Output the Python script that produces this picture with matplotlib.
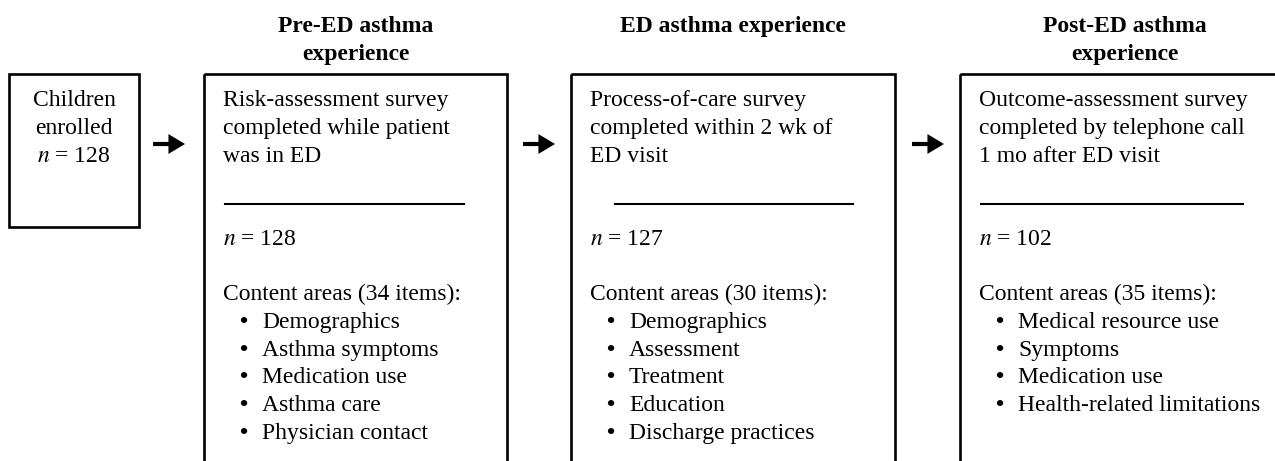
import matplotlib.pyplot as plt
from matplotlib.patches import Rectangle

plt.rcParams['font.family'] = ['Liberation Serif', 'DejaVu Serif']
plt.rcParams['mathtext.fontset'] = 'stix'

# Contenu du schéma
enrolled_label = ["Children", "enrolled"]
enrolled_n = 128

stage_titles = [
    ["Pre-ED asthma", "experience"],
    ["ED asthma experience"],
    ["Post-ED asthma", "experience"],
]
stage_desc = [
    ["Risk-assessment survey", "completed while patient", "was in ED"],
    ["Process-of-care survey", "completed within 2 wk of", "ED visit"],
    ["Outcome-assessment survey", "completed by telephone call", "1 mo after ED visit"],
]
stage_n = [128, 127, 102]
stage_items = [34, 30, 35]
stage_areas = [
    ["Demographics", "Asthma symptoms", "Medication use", "Asthma care", "Physician contact"],
    ["Demographics", "Assessment", "Treatment", "Education", "Discharge practices"],
    ["Medical resource use", "Symptoms", "Medication use", "Health-related limitations"],
]

# Mise en page (pixels)
box_left = [204, 571, 960]
box_right = [507, 895, 1290]
rule_span = [(225, 464), (615, 853), (981, 1243)]
arrow_x = [(153, 185), (523, 555), (912, 944)]

fig = plt.figure(figsize=(12.75, 4.61), dpi=100)
ax = fig.add_axes([0, 0, 1, 1])
ax.set_xlim(0, 1275)
ax.set_ylim(461, 0)
ax.axis('off')

fs = 17
lw_box = 1.9

# boîte de départ
ax.add_patch(Rectangle((9, 74), 130, 153, fill=False, lw=lw_box, ec='black'))
cx = 74
for i, line in enumerate(enrolled_label):
    ax.text(cx, 106 + 28 * i, line, ha='center', va='baseline', fontsize=fs)
ax.text(cx, 162, f"$n$ = {enrolled_n}", ha='center', va='baseline', fontsize=fs)

for k in range(3):
    x0, x1 = box_left[k], box_right[k]
    ax.add_patch(Rectangle((x0, 74), x1 - x0, 420, fill=False, lw=lw_box, ec='black', clip_on=True))
    mid = (x0 + x1) / 2
    for i, t in enumerate(stage_titles[k]):
        ax.text(mid, 32 + 28 * i, t, ha='center', va='baseline', fontsize=fs, fontweight='bold')
    tx = x0 + 19
    for i, line in enumerate(stage_desc[k]):
        ax.text(tx, 106 + 28 * i, line, ha='left', va='baseline', fontsize=fs)
    r0, r1 = rule_span[k]
    ax.plot([r0, r1], [204, 204], color='black', lw=1.5)
    ax.text(tx, 245, f"$n$ = {stage_n[k]}", ha='left', va='baseline', fontsize=fs)
    ax.text(tx, 300, f"Content areas ({stage_items[k]} items):", ha='left', va='baseline', fontsize=fs)
    for i, area in enumerate(stage_areas[k]):
        y = 328 + 27.7 * i
        ax.text(tx + 16, y, "\u2022", ha='left', va='baseline', fontsize=fs, fontweight='bold')
        ax.text(tx + 39, y, area, ha='left', va='baseline', fontsize=fs)

    a0, a1 = arrow_x[k]
    ax.annotate("", xy=(a1, 144), xytext=(a0, 144),
                arrowprops=dict(arrowstyle='-|>,head_length=0.75,head_width=0.45',
                                lw=3.0, color='black', shrinkA=0, shrinkB=0,
                                joinstyle='miter', capstyle='butt'))

plt.savefig("out.png", dpi=100)
